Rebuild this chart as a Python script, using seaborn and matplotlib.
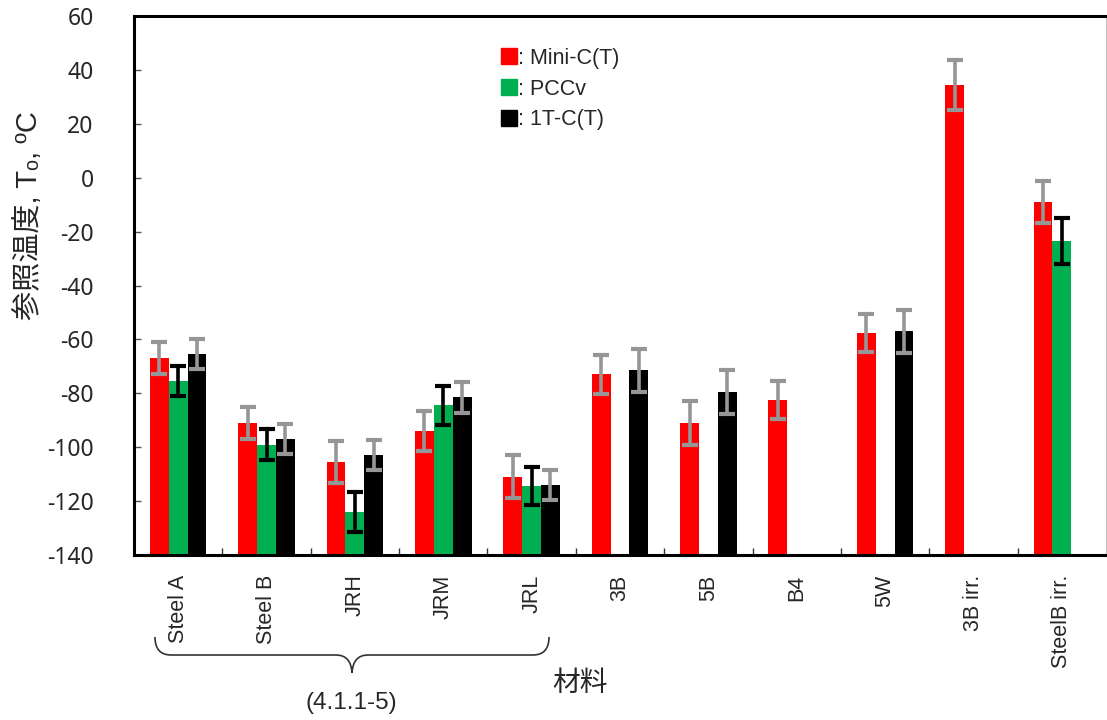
import numpy as np
import pandas as pd
import matplotlib
matplotlib.use("Agg")
import matplotlib.pyplot as plt
from matplotlib.lines import Line2D
from matplotlib.path import Path
from matplotlib.patches import PathPatch
import seaborn as sns

materials = ["Steel A", "Steel B", "JRH", "JRM", "JRL", "3B", "5B", "B4", "5W", "3B irr.", "SteelB irr."]
methods = ["Mini-C(T)", "PCCv", "1T-C(T)"]
nan = np.nan
mini_vals = [-67, -91, -105.5, -94, -111, -73, -91, -82.5, -57.5, 34.5, -9]
mini_err = [6, 6, 7.7, 7.5, 8, 7.2, 8, 7, 7, 9.2, 7.8]
pccv_vals = [-75.5, -99, -124, -84.5, -114.5, nan, nan, nan, nan, nan, -23.5]
pccv_err = [5.5, 5.7, 7.5, 7.2, 7, nan, nan, nan, nan, nan, 8.5]
t1_vals = [-65.5, -97, -103, -81.5, -114, -71.5, -79.5, nan, -57, nan, nan]
t1_err = [5.5, 5.6, 5.5, 5.7, 5.7, 8, 8, nan, 8, nan, nan]
colors = ["#FF0000", "#00B050", "#000000"]
err_colors = ["#969696", "#000000", "#969696"]
yticks = list(range(-140, 61, 20))
ymin, ymax = -140, 60

series_vals = [mini_vals, pccv_vals, t1_vals]
series_err = [mini_err, pccv_err, t1_err]

rows = []
for m, vals, errs in zip(methods, series_vals, series_err):
    for mat, v, e in zip(materials, vals, errs):
        rows.append({"material": mat, "method": m, "value": v, "err": e})
df = pd.DataFrame(rows).dropna()

sns.set_theme(style="ticks")
plt.rcParams["font.family"] = ["Liberation Sans", "Noto Sans CJK JP", "DejaVu Sans"]

W, H = 1107, 720
fig = plt.figure(figsize=(W / 100, H / 100), dpi=100)
ax = fig.add_axes([134 / W, 1 - 555 / H, (1106 - 134) / W, (555 - 16) / H])

bw = 0.64
sns.barplot(data=df, x="material", y="value", hue="method", order=materials,
            hue_order=methods, palette=colors, width=bw, saturation=1,
            errorbar=None, legend=False, ax=ax, edgecolor="none", linewidth=0)

# bars start at the bottom of the axis (-140)
for p in ax.patches:
    h = p.get_height()
    p.set_y(ymin)
    p.set_height(h - ymin)

step = bw / 3
offsets = [-step, 0.0, step]
for m, off, ec in zip(methods, offsets, err_colors):
    sub = df[df["method"] == m]
    xs = [materials.index(v) + off for v in sub["material"]]
    ax.errorbar(xs, sub["value"], yerr=sub["err"], fmt="none", ecolor=ec,
                elinewidth=2.6, capsize=5.5, capthick=3, zorder=5)

ax.set_xlim(-0.5, len(materials) - 0.5)
ax.set_ylim(ymin, ymax)
ax.set_yticks(yticks)
ax.set_yticklabels([str(t) for t in yticks], fontsize=16.5, family=["Noto Sans", "DejaVu Sans"])
ax.set_xticks(range(len(materials)))
ax.set_xticklabels(materials, rotation=90, fontsize=15.5, va="top", ha="center")
ax.set_xticks(np.arange(0.5, len(materials) - 0.5, 1.0), minor=True)
ax.tick_params(axis="x", which="major", length=0, pad=14)
ax.tick_params(axis="x", which="minor", direction="in", length=5, width=1, color="#333333")
ax.tick_params(axis="y", which="major", direction="in", length=5, width=1, pad=29, color="#555555")

for s in ["top", "left", "bottom"]:
    ax.spines[s].set_linewidth(2.2)
    ax.spines[s].set_color("black")
ax.spines["right"].set_linewidth(0.8)
ax.spines["right"].set_color("#c0c0c0")

ax.set_xlabel("")
ax.set_ylabel("参照温度, Tₒ, ºC", fontsize=21,
              family=["Liberation Sans", "Noto Sans CJK JP", "DejaVu Sans"])
ax.yaxis.set_label_coords(-0.094, 0.63)

handles = [Line2D([], [], marker="s", ls="", color=c, markersize=12) for c in colors]
ax.legend(handles, [": " + m for m in methods], loc="upper left",
          bbox_to_anchor=(501 / W, 1 - 48 / H), bbox_transform=fig.transFigure,
          frameon=False, fontsize=15.5, handlelength=0.7, handletextpad=0.1,
          labelspacing=0.45, borderaxespad=0, borderpad=0)

fig.text(580 / W, 1 - 683 / H, "材料", fontsize=20, ha="center", va="center",
         family=["Noto Sans CJK JP", "DejaVu Sans"])
fig.text(351 / W, 1 - 703 / H, "(4.1.1-5)", fontsize=17.5, ha="center", va="center")

def P(x, y):
    return (x / W, 1 - y / H)

verts = [P(155, 637), P(155, 655), P(171, 655), P(336, 655), P(351, 655), P(352, 673),
         P(353, 655), P(368, 655), P(533, 655), P(549, 655), P(549, 637)]
codes = [Path.MOVETO, Path.CURVE3, Path.CURVE3, Path.LINETO, Path.CURVE3, Path.CURVE3,
         Path.CURVE3, Path.CURVE3, Path.LINETO, Path.CURVE3, Path.CURVE3]
brace = PathPatch(Path(verts, codes), transform=fig.transFigure, fill=False,
                  edgecolor="#333333", linewidth=1.2)
fig.patches.append(brace)

fig.savefig("out.png", dpi=100)
